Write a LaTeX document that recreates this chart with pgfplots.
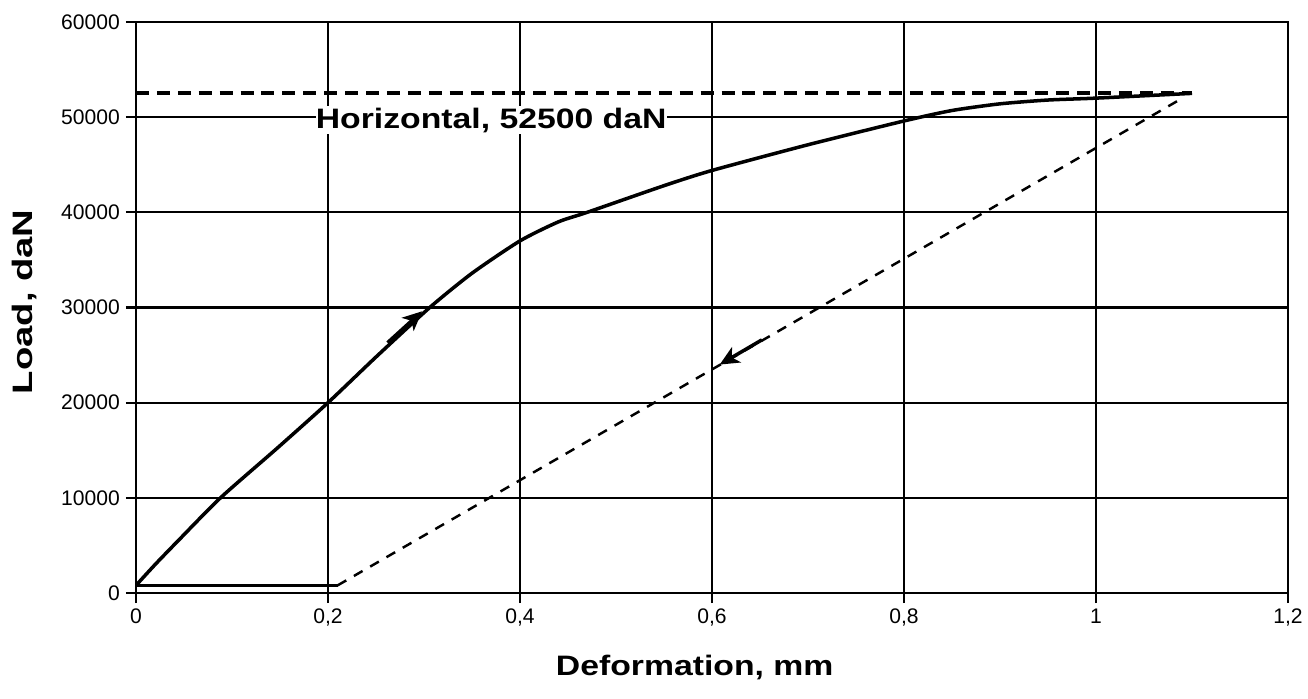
\documentclass[border=0pt]{standalone}
\usepackage{fontspec}
\setmainfont{Liberation Sans}
\newfontfamily\labfont[FakeStretch=1.2]{Liberation Sans}
\newfontfamily\ylabfont[FakeStretch=1.36]{Liberation Sans}
\usepackage{pgfplots}
\pgfplotsset{compat=1.18}
\usetikzlibrary{arrows.meta}
\begin{document}
\begin{tikzpicture}
\path[use as bounding box] (-27.2mm,-21.2mm) rectangle (234.4mm,118.6mm);
\begin{axis}[
  at={(0,0)}, anchor=south west,
  scale only axis,
  width=230.4mm, height=114.2mm,
  xmin=0, xmax=1.2, ymin=0, ymax=60000,
  xtick={0,0.2,0.4,0.6,0.8,1,1.2},
  ytick={0,10000,20000,30000,40000,50000,60000},
  grid=major,
  grid style={black, line width=1.2pt},
  axis line style={black, line width=1.2pt},
  tick style={black, line width=1.2pt},
  tick align=outside,
  major tick length=2mm,
  xtick pos=bottom, ytick pos=left,
  scaled ticks=false,
  /pgf/number format/.cd, use comma, 1000 sep={}, assume math mode=true,
  /pgfplots/.cd,
  ticklabel style={font=\fontsize{12}{14}\selectfont},
  xlabel={\labfont\bfseries Deformation, mm},
  ylabel={\ylabfont\bfseries Load, daN},
  label style={font=\fontsize{16}{19}\selectfont},
  xlabel style={at={(axis description cs:0.485,-0.131)}, anchor=center},
  ylabel style={at={(axis description cs:-0.0964,0.51)}, anchor=center},
]
% horizontal reference line
\addplot[black, line width=2.2pt, dash pattern=on 7.4pt off 4.5pt] coordinates {(0,52500) (1.1,52500)};
% loading curve
\addplot[black, line width=2pt, smooth, tension=0.4] coordinates {
(0,800) (0.02,3000) (0.043,5400) (0.088,10000) (0.148,15300) (0.2,20000)
(0.25,24800) (0.306,30000) (0.35,33600) (0.4,37000) (0.44,39000) (0.47,40000)
(0.55,42800) (0.6,44400) (0.7,47100) (0.8,49600) (0.85,50700) (0.9,51400)
(0.95,51800) (1.0,52000) (1.1,52500)};
% residual
\addplot[black, line width=2pt] coordinates {(0,800) (0.21,800)};
% unloading
\addplot[black, line width=1.4pt, dash pattern=on 5.7pt off 5pt] coordinates {(0.21,800) (1.09,52000)};
% arrows
\addplot[black, line width=2pt, -{Stealth[length=11pt,width=10pt,inset=3pt]}] coordinates {(0.262,26300) (0.298,29600)};
\addplot[black, line width=2pt, -{Stealth[length=11pt,width=10pt,inset=3pt]}] coordinates {(0.652,26600) (0.608,24000)};
\node[fill=white, inner xsep=0pt, inner ysep=1pt, font=\labfont\bfseries\fontsize{16}{19}\selectfont] at (axis cs:0.37,49700) {Horizontal, 52500 daN};
\end{axis}
\end{tikzpicture}
\end{document}
